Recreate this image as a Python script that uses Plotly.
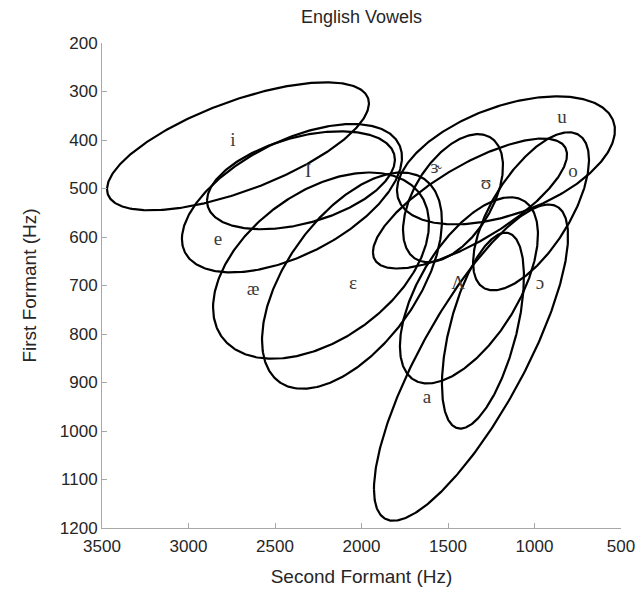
import numpy as np
import plotly.graph_objects as go

# Vowel symbols as printed on the chart
vowels = ["i", "I", "e", "æ", "ɛ", "ɝ", "ʊ", "u", "o", "Λ", "ɔ", "a"]

# Ellipse centres (Hz)
center_f2 = [2714, 2350, 2402, 2234, 2055, 1471, 1373, 1165, 1020, 1379, 1298, 1367]
center_f1 = [413, 483, 520, 659, 690, 520, 531, 442, 547, 710, 793, 859]
# Half-extent of each ellipse along F2 and F1 (Hz)
spread_f2 = [757, 543, 636, 624, 520, 289, 561, 630, 335, 399, 237, 561]
spread_f1 = [132, 101, 153, 192, 223, 132, 134, 132, 163, 192, 202, 326]
# F1/F2 correlation of each ellipse
corr = [0.67, 0.42, 0.55, 0.45, 0.55, 0.50, 0.75, 0.47, 0.65, 0.60, 0.55, 0.80]

# Where each vowel symbol is written (Hz)
label_f2 = [2743, 2309, 2829, 2627, 2049, 1569, 1280, 841, 777, 1442, 968, 1621]
label_f1 = [402, 467, 607, 710, 698, 458, 491, 355, 467, 698, 698, 933]

x_ticks = [3500, 3000, 2500, 2000, 1500, 1000, 500]
y_ticks = [200, 300, 400, 500, 600, 700, 800, 900, 1000, 1100, 1200]

SANS = "Liberation Sans, Arial, Helvetica, sans-serif"
SERIF = "Liberation Serif, Times New Roman, DejaVu Serif, serif"

fig = go.Figure()

t = np.linspace(0, 2 * np.pi, 361)
for name, c2, c1, s2, s1, r in zip(vowels, center_f2, center_f1,
                                   spread_f2, spread_f1, corr):
    phi = np.arccos(r)
    fig.add_trace(go.Scatter(
        x=c2 + s2 * np.cos(t),
        y=c1 + s1 * np.cos(t - phi),
        mode="lines",
        line=dict(color="black", width=2.2),
        name=name,
        hoverinfo="name",
        showlegend=False,
    ))

fig.add_trace(go.Scatter(
    x=label_f2, y=label_f1, mode="text", text=vowels,
    textfont=dict(family=SERIF, size=19, color="#3a3a3a"),
    hoverinfo="skip", showlegend=False,
))

axis_common = dict(
    showgrid=False, zeroline=False, showline=True,
    linecolor="#a8a8a8", linewidth=1,
    ticks="inside", ticklen=5, tickcolor="#a8a8a8",
    tickfont=dict(family=SANS, size=17, color="#262626"),
    title_font=dict(family=SANS, size=19, color="#262626"),
    mirror=False,
)

fig.update_layout(
    width=642, height=594,
    margin=dict(l=102, r=21, t=43, b=66, autoexpand=False),
    paper_bgcolor="white", plot_bgcolor="white",
    title=dict(text="English Vowels", x=0.5, xref="paper", xanchor="center",
               y=1 - 17 / 594, yref="container", yanchor="middle",
               font=dict(family=SANS, size=18, color="#262626")),
    xaxis=dict(range=[3500, 500], tickvals=x_ticks, ticklabelstandoff=3,
               title=dict(text="Second Formant (Hz)", standoff=14),
               **axis_common),
    yaxis=dict(range=[1200, 200], tickvals=y_ticks,
               title=dict(text="First Formant (Hz)", standoff=18),
               **axis_common),
)

fig.write_html("out.html")
